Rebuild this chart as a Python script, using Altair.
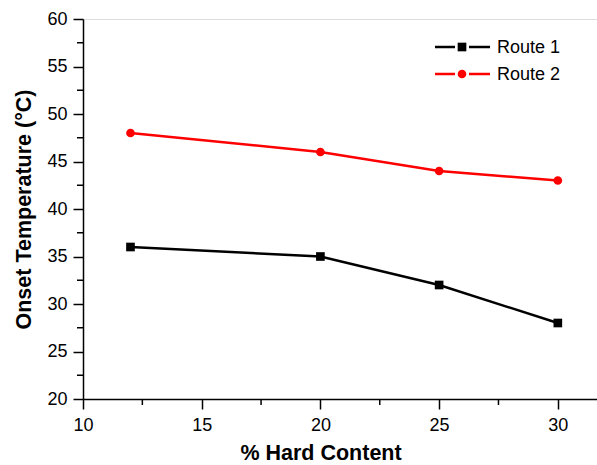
import altair as alt
import pandas as pd

hard_content = [12, 20, 25, 30]
route1 = [36, 35, 32, 28]
route2 = [48, 46, 44, 43]
series = ["Route 1", "Route 2"]
colors = ["#000000", "#ff0000"]
shapes = ["square", "circle"]

df = pd.DataFrame({
    "x": hard_content * 2,
    "y": route1 + route2,
    "s": [series[0]] * 4 + [series[1]] * 4,
})

FONT = "Liberation Sans"
W, H = 514, 380

xs = alt.Scale(domain=[10, 31.65], nice=False, zero=False)
ys = alt.Scale(domain=[20, 60], nice=False, zero=False)
col = alt.Scale(domain=series, range=colors)
shp = alt.Scale(domain=series, range=shapes)

common = dict(labelFontSize=18, titleFontSize=21.5, titleFontWeight="bold",
              labelFont=FONT, titleFont=FONT, labelColor="#000", titleColor="#000",
              domainColor="#000", tickColor="#000", tickSize=10, tickWidth=1.5,
              domainWidth=1.5, grid=False, labelFlush=False)

base = alt.Chart(df)
xenc = alt.X("x:Q", scale=xs, title="% Hard Content",
             axis=alt.Axis(values=[10, 15, 20, 25, 30], labelPadding=7, titlePadding=8,
                           titleX=237.5, **common))
yenc = alt.Y("y:Q", scale=ys, title="Onset Temperature (°C)",
             axis=alt.Axis(values=[20, 25, 30, 35, 40, 45, 50, 55, 60],
                           labelPadding=6, titlePadding=11, **common))

lines = base.mark_line(strokeWidth=2.5).encode(
    x=xenc, y=yenc, color=alt.Color("s:N", scale=col, legend=None), detail="s:N")
pts = base.mark_point(filled=True, opacity=1, size=75).encode(
    x=alt.X("x:Q", scale=xs), y=alt.Y("y:Q", scale=ys),
    color=alt.Color("s:N", scale=col, legend=None),
    shape=alt.Shape("s:N", scale=shp, legend=None))

# minor ticks
minor_x = pd.DataFrame({"v": [12.5, 17.5, 22.5, 27.5]})
minor_y = pd.DataFrame({"v": [22.5, 27.5, 32.5, 37.5, 42.5, 47.5, 52.5, 57.5]})
mx = alt.Chart(minor_x).mark_rule(color="#000", strokeWidth=1.5).encode(
    x=alt.X("v:Q", scale=xs), y=alt.value(H), y2=alt.value(H + 6))
my = alt.Chart(minor_y).mark_rule(color="#000", strokeWidth=1.5).encode(
    y=alt.Y("v:Q", scale=ys), x=alt.value(0), x2=alt.value(-6))

# legend
leg = []
for i, (name, c, sh) in enumerate(zip(series, colors, shapes)):
    ly = 28 + i * 27
    ldf = pd.DataFrame({"s": [name]})
    lc = alt.Chart(ldf)
    leg.append(lc.mark_rule(color=c, strokeWidth=2.5).encode(
        x=alt.value(352), x2=alt.value(372), y=alt.value(ly)))
    leg.append(lc.mark_rule(color=c, strokeWidth=2.5).encode(
        x=alt.value(386), x2=alt.value(407), y=alt.value(ly)))
    leg.append(lc.mark_point(filled=True, opacity=1, size=75, color=c, shape=sh).encode(
        x=alt.value(379), y=alt.value(ly)))
    leg.append(lc.mark_text(align="left", baseline="middle", fontSize=18, font=FONT, color="#000").encode(
        x=alt.value(414), y=alt.value(ly + 1), text="s:N"))

chart = alt.layer(lines, pts, mx, my, *leg).properties(
    width=W, height=H,
    autosize=alt.AutoSizeParams(type="none"),
    padding={"left": 83, "top": 19, "right": 0, "bottom": 66},
).configure_view(stroke=None).configure(background="white")

chart.save("out.html", embed_options={"renderer": "svg", "actions": False})
